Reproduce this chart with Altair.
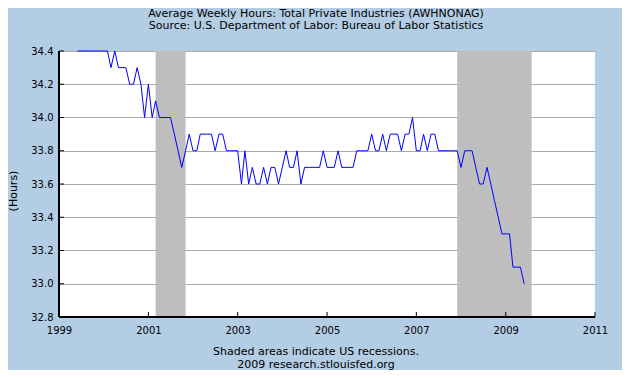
import altair as alt
import pandas as pd

# Monthly average weekly hours, June 1999 - June 2009
first_month = "1999-06-01"
hours = [
    34.4, 34.4, 34.4, 34.4, 34.4, 34.4, 34.4,
    34.4, 34.4, 34.3, 34.4, 34.3, 34.3, 34.3, 34.2, 34.2, 34.3, 34.2, 34.0,
    34.2, 34.0, 34.1, 34.0, 34.0, 34.0, 34.0, 33.9, 33.8, 33.7, 33.8, 33.9,
    33.8, 33.8, 33.9, 33.9, 33.9, 33.9, 33.8, 33.9, 33.9, 33.8, 33.8, 33.8,
    33.8, 33.6, 33.8, 33.6, 33.7, 33.6, 33.6, 33.7, 33.6, 33.7, 33.7, 33.6,
    33.7, 33.8, 33.7, 33.7, 33.8, 33.6, 33.7, 33.7, 33.7, 33.7, 33.7, 33.8,
    33.7, 33.7, 33.7, 33.8, 33.7, 33.7, 33.7, 33.7, 33.8, 33.8, 33.8, 33.8,
    33.9, 33.8, 33.8, 33.9, 33.8, 33.9, 33.9, 33.9, 33.8, 33.9, 33.9, 34.0,
    33.8, 33.8, 33.9, 33.8, 33.9, 33.9, 33.8, 33.8, 33.8, 33.8, 33.8, 33.8,
    33.7, 33.8, 33.8, 33.8, 33.7, 33.6, 33.6, 33.7, 33.6, 33.5, 33.4, 33.3,
    33.3, 33.3, 33.1, 33.1, 33.1, 33.0,
]
rec_start = ["2001-03-01", "2007-12-01"]
rec_end = ["2001-11-01", "2009-08-01"]
y_ticks = [32.8, 33.0, 33.2, 33.4, 33.6, 33.8, 34.0, 34.2, 34.4]
x_tick_years = [1999, 2001, 2003, 2005, 2007, 2009, 2011]

title_lines = [
    "Average Weekly Hours: Total Private Industries (AWHNONAG)",
    "Source: U.S. Department of Labor: Bureau of Labor Statistics",
]
footer_lines = ["Shaded areas indicate US recessions.", "2009 research.stlouisfed.org"]
y_title = "(Hours)"

FONT = "DejaVu Sans"
W, H = 536, 266

dates = pd.date_range(first_month, periods=len(hours), freq="MS")
df = pd.DataFrame({"date": dates.strftime("%Y-%m-%d"), "hours": hours})
rec = pd.DataFrame({"start": rec_start, "end": rec_end})
yt = pd.DataFrame({"v": y_ticks})
xt = pd.DataFrame({"d": [f"{y}-01-01" for y in x_tick_years]})

x_scale = alt.Scale(domain=[alt.DateTime(year=1999, month=1, date=1),
                            alt.DateTime(year=2011, month=1, date=1)])
y_scale = alt.Scale(domain=[32.8, 34.4], zero=False, nice=False)

x_axis = alt.Axis(values=[alt.DateTime(year=y, month=1, date=1) for y in x_tick_years],
                  format="%Y", title=None, grid=False, domain=False, ticks=False,
                  labelFlush=False, labelOverlap=False, labelPadding=8,
                  labelFont=FONT, labelFontSize=10, labelColor="black")
y_axis = alt.Axis(values=y_ticks, format=".1f", title=None, grid=True,
                  gridColor="#AAAAAA", gridWidth=1, domain=False, ticks=False,
                  labelOverlap=False, labelPadding=6, labelFont=FONT,
                  labelFontSize=10, labelColor="black")

shade = alt.Chart(rec).mark_rect(color="#BEBEBE").encode(
    x=alt.X("start:T", scale=x_scale, axis=x_axis),
    x2="end:T",
)

line = alt.Chart(df).mark_line(color="#0000FF", strokeWidth=1).encode(
    x=alt.X("date:T", scale=x_scale, axis=x_axis),
    y=alt.Y("hours:Q", scale=y_scale, axis=y_axis),
)

x_domain = alt.Chart(yt).mark_rule(color="black", strokeWidth=1).encode(
    y=alt.YDatum(32.8, scale=y_scale, axis=y_axis)
)
y_domain = alt.Chart(yt).mark_rule(color="black", strokeWidth=1).encode(
    x=alt.XDatum(alt.DateTime(year=1999, month=1, date=1), type="temporal",
                 scale=x_scale, axis=x_axis)
)
y_tick_marks = alt.Chart(yt).mark_rule(color="black").encode(
    y=alt.Y("v:Q", scale=y_scale, axis=y_axis), x=alt.value(0), x2=alt.value(5)
)
x_tick_marks = alt.Chart(xt).mark_rule(color="black").encode(
    x=alt.X("d:T", scale=x_scale, axis=x_axis), y=alt.value(H - 5), y2=alt.value(H)
)


def text_at(s, x, y, angle=0):
    return alt.Chart(pd.DataFrame({"t": [s]})).mark_text(
        font=FONT, fontSize=11, color="black", align="center",
        baseline="middle", angle=angle
    ).encode(text="t:N", x=alt.value(x), y=alt.value(y))


texts = [
    text_at(title_lines[0], 257, -37),
    text_at(title_lines[1], 257, -25),
    text_at(footer_lines[0], 257, 301),
    text_at(footer_lines[1], 257, 314),
    text_at(y_title, -45, 140, angle=270),
]

chart = alt.layer(
    shade, line, x_domain, y_domain, y_tick_marks, x_tick_marks, *texts
).properties(
    width=W, height=H,
    padding={"left": 51, "top": 43, "right": 27, "bottom": 53},
    autosize=alt.AutoSizeParams(type="none"),
    background="#B3CDE5",
).configure_view(fill="white", stroke=None)

chart.save("out.html", embed_options={"renderer": "svg", "actions": False})
